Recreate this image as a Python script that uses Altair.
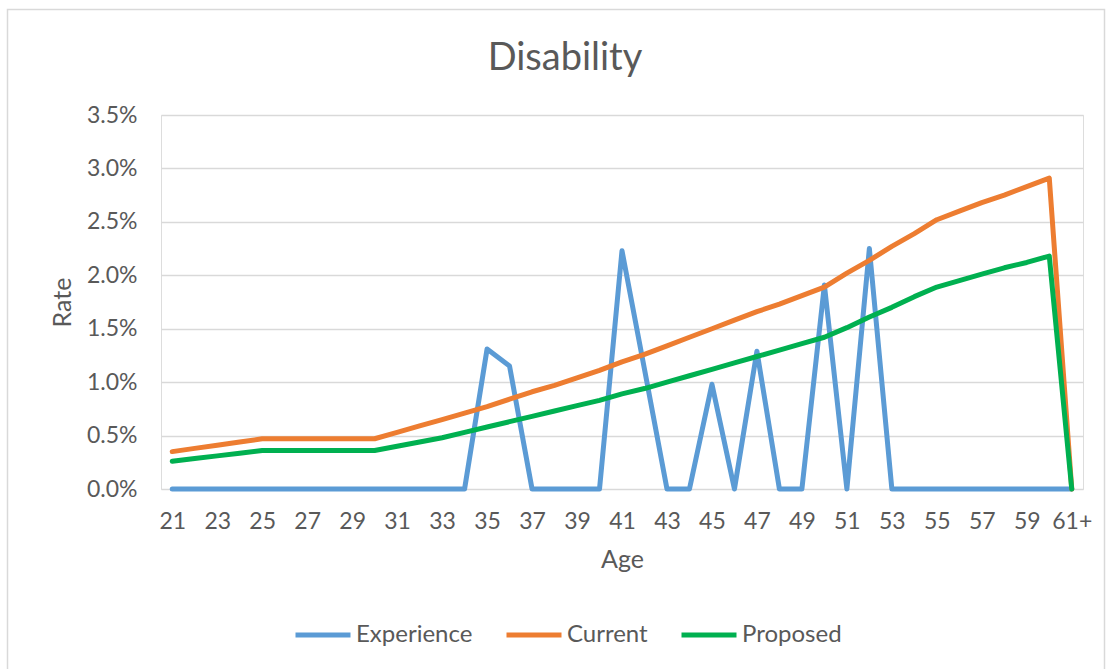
import altair as alt
import pandas as pd

# ---------------- data ----------------
ages = [str(a) for a in range(21, 61)] + ["61+"]

experience = [
    0, 0, 0, 0, 0, 0, 0, 0, 0, 0,          # 21-30
    0, 0, 0, 0, 0.0131, 0.0115, 0, 0, 0, 0,  # 31-40
    0.0223, 0.0112, 0, 0, 0.0098, 0, 0.0129, 0, 0, 0.0191,  # 41-50
    0, 0.0225, 0, 0, 0, 0, 0, 0, 0, 0,      # 51-60
    0,                                      # 61+
]

current = [
    0.0035, 0.0038, 0.0041, 0.0044, 0.0047, 0.0047, 0.0047, 0.0047, 0.0047, 0.0047,  # 21-30
    0.0053, 0.0059, 0.0065, 0.0071, 0.0077, 0.0084, 0.0091, 0.0097, 0.0104, 0.0111,  # 31-40
    0.0119, 0.0126, 0.0134, 0.0142, 0.0150, 0.0158, 0.0166, 0.0173, 0.0181, 0.0189,  # 41-50
    0.0202, 0.0214, 0.0227, 0.0239, 0.0252, 0.0260, 0.0268, 0.0275, 0.0283, 0.0291,  # 51-60
    0,                                                                                # 61+
]

proposed = [
    0.0026, 0.00285, 0.0031, 0.00335, 0.0036, 0.0036, 0.0036, 0.0036, 0.0036, 0.0036,  # 21-30
    0.0040, 0.0044, 0.0048, 0.0053, 0.0058, 0.0063, 0.0068, 0.0073, 0.0078, 0.0083,    # 31-40
    0.0089, 0.0094, 0.0100, 0.0106, 0.0112, 0.0118, 0.0124, 0.0130, 0.0136, 0.0142,    # 41-50
    0.0151, 0.0161, 0.0170, 0.0180, 0.0189, 0.0195, 0.0201, 0.0207, 0.0212, 0.0218,    # 51-60
    0,                                                                                  # 61+
]

series_names = ["Experience", "Current", "Proposed"]
series_colors = ["#5B9BD5", "#ED7D31", "#00B050"]
y_ticks = [0, 0.005, 0.01, 0.015, 0.02, 0.025, 0.03, 0.035]
x_labels = ages[::2]

rows = []
for name, vals in zip(series_names, [experience, current, proposed]):
    for a, v in zip(ages, vals):
        rows.append({"Age": a, "Rate": v, "Series": name})
df = pd.DataFrame(rows)

TXT = "#595959"
FONT = "Lato"

# ---------------- chart ----------------
x_enc = alt.X(
    "Age:O",
    sort=ages,
    scale=alt.Scale(type="point", padding=0.5),
    axis=alt.Axis(
        values=x_labels, labelAngle=0, ticks=False, domain=False, grid=False,
        labelPadding=21, labelFontSize=23, labelColor=TXT, labelFont=FONT,
        title="Age", titleFontSize=25, titleFontWeight="normal", titleColor=TXT,
        titleFont=FONT, titleY=78, titleBaseline="alphabetic",
    ),
)
y_enc = alt.Y(
    "Rate:Q",
    scale=alt.Scale(domain=[0, 0.035], nice=False),
    axis=alt.Axis(
        values=y_ticks, format=".1%", ticks=False, domain=False, grid=True,
        gridColor="#d9d9d9", gridWidth=1.5,
        labelPadding=24, labelFontSize=23, labelColor=TXT, labelFont=FONT,
        title="Rate", titleFontSize=25, titleFontWeight="normal", titleColor=TXT,
        titleFont=FONT, titleX=-91, titleBaseline="alphabetic",
    ),
)
color_enc = alt.Color(
    "Series:N",
    scale=alt.Scale(domain=series_names, range=series_colors),
    legend=alt.Legend(
        title=None, orient="none", direction="horizontal",
        legendX=132, legendY=490,
        labelFontSize=24, labelColor=TXT, labelFont=FONT,
        symbolType="stroke", symbolStrokeWidth=5, symbolSize=3025,
        labelOffset=3, columnPadding=23,
    ),
)

base = alt.Chart(df)
layers = []
for name in series_names:
    layers.append(
        base.transform_filter(alt.datum.Series == name)
        .mark_line(strokeWidth=5, strokeJoin="round", strokeCap="round")
        .encode(x=x_enc, y=y_enc, color=color_enc)
    )

border = alt.Chart(pd.DataFrame({"b": [0]})).mark_rect(
    fillOpacity=0, stroke="#d9d9d9", strokeWidth=1.5
).encode(
    x=alt.value(-153.5), x2=alt.value(943.5),
    y=alt.value(-105.5), y2=alt.value(570),
)

chart = alt.layer(border, *layers).properties(
    width=922,
    height=374,
    title=alt.TitleParams(
        text="Disability", fontSize=38, font=FONT, fontWeight="normal",
        color=TXT, anchor="middle", frame="group", dx=-57, dy=73,
    ),
    autosize=alt.AutoSizeParams(type="none"),
    padding={"left": 161, "top": 115, "right": 26, "bottom": 180},
).configure_view(stroke=None).configure(background="white")

chart.save("out.html", embed_options={"renderer": "svg", "actions": False})
